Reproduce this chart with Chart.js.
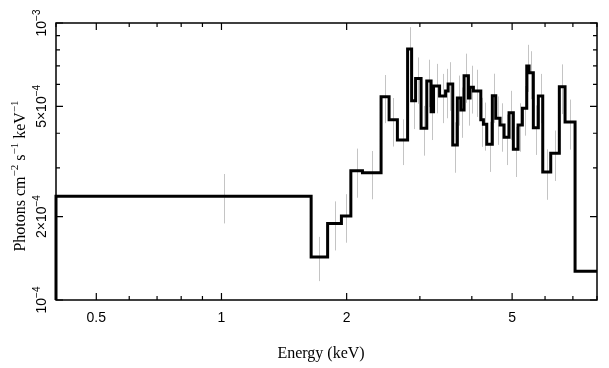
<!DOCTYPE html>
<html>
<head>
<meta charset="utf-8">
<script src="https://cdn.jsdelivr.net/npm/chart.js@4.4.0/dist/chart.umd.min.js"></script>
<style>
  html, body { margin: 0; padding: 0; background: #fff; }
</style>
</head>
<body>
<canvas id="spectrum" width="609" height="368"></canvas>
<script>
// bin edges (keV)
const binEdges = [0.400, 1.643, 1.800, 1.943, 2.047, 2.183, 2.420, 2.530, 2.649, 2.803,
  2.866, 2.930, 3.020, 3.117, 3.192, 3.236, 3.346, 3.459, 3.508, 3.599,
  3.692, 3.763, 3.832, 3.925, 3.961, 4.035, 4.204, 4.265, 4.345, 4.481,
  4.567, 4.677, 4.782, 4.916, 5.034, 5.167, 5.292, 5.422, 5.492, 5.623,
  5.781, 5.924, 6.192, 6.494, 6.703, 7.085, 8.000];

// flux per bin (photons cm^-2 s^-1 keV^-1)
const binFlux = [2.37e-4, 1.43e-4, 1.89e-4, 2.01e-4, 2.93e-4, 2.88e-4, 5.42e-4, 4.47e-4, 3.78e-4, 8.06e-4,
  5.24e-4, 6.31e-4, 4.17e-4, 6.17e-4, 4.78e-4, 5.92e-4, 5.45e-4, 5.68e-4, 6.02e-4, 3.63e-4,
  5.36e-4, 4.85e-4, 6.45e-4, 5.36e-4, 5.86e-4, 5.68e-4, 4.47e-4, 4.31e-4, 3.65e-4, 5.46e-4,
  4.53e-4, 4.28e-4, 3.87e-4, 4.74e-4, 3.50e-4, 4.28e-4, 4.92e-4, 6.99e-4, 6.61e-4, 4.19e-4,
  5.45e-4, 2.90e-4, 3.39e-4, 5.89e-4, 4.39e-4, 1.27e-4];

// 1 sigma errors
const binErr = [0.48e-4, 0.26e-4, 0.38e-4, 0.40e-4, 0.59e-4, 0.57e-4, 1.07e-4, 0.89e-4, 0.71e-4, 1.6e-4,
  1.1e-4, 1.2e-4, 0.85e-4, 1.2e-4, 1.0e-4, 1.2e-4, 1.1e-4, 1.15e-4, 1.2e-4, 0.75e-4,
  1.1e-4, 1.0e-4, 1.3e-4, 1.1e-4, 1.15e-4, 1.1e-4, 0.9e-4, 0.85e-4, 0.75e-4, 1.1e-4,
  0.9e-4, 0.85e-4, 0.8e-4, 0.95e-4, 0.72e-4, 0.85e-4, 1.0e-4, 1.35e-4, 1.3e-4, 0.85e-4,
  1.1e-4, 0.6e-4, 0.7e-4, 1.2e-4, 0.9e-4, null];

// energy where each error bar sits
const errEnergy = [1.015, 1.720, 1.870, 1.994, 2.114, 2.298, 2.474, 2.589, 2.725, 2.834,
  2.898, 2.975, 3.068, 3.154, 3.214, 3.291, 3.402, 3.483, 3.553, 3.645,
  3.727, 3.797, 3.878, 3.943, 3.998, 4.119, 4.234, 4.305, 4.413, 4.524,
  4.622, 4.729, 4.849, 4.975, 5.100, 5.229, 5.357, 5.457, 5.557, 5.702,
  5.852, 6.057, 6.341, 6.598, 6.882, 7.530];

const xMajor = [0.5, 1, 2, 5];
const xMinor = [0.4, 0.6, 0.7, 0.8, 0.9, 3, 4, 6, 7, 8];
const xLabels = ['0.5', '1', '2', '5'];
const yMajor = [1e-4, 2e-4, 5e-4, 1e-3];
const yMinor = [3e-4, 4e-4, 6e-4, 7e-4, 8e-4, 9e-4];
const yLabels = [['10', '\u22124'], ['2\u00d710', '\u22124'], ['5\u00d710', '\u22124'], ['10', '\u22123']];

const X_MIN = 0.4, X_MAX = 8, Y_MIN = 1e-4, Y_MAX = 1e-3;

// histogram outline
const stepPts = [{x: binEdges[0], y: Y_MIN}];
binFlux.forEach((v, i) => {
  stepPts.push({x: binEdges[i], y: v});
  stepPts.push({x: binEdges[i + 1], y: v});
});

// text with superscripts, centered at (x, y) baseline
function drawRich(ctx, parts, x, y, size, family) {
  const supSize = Math.round(size * 0.68);
  let total = 0;
  parts.forEach(p => {
    ctx.font = (p[1] ? supSize : size) + 'px ' + family;
    total += ctx.measureText(p[0]).width;
  });
  let cx = x - total / 2;
  ctx.textBaseline = 'alphabetic';
  ctx.textAlign = 'left';
  parts.forEach(p => {
    ctx.font = (p[1] ? supSize : size) + 'px ' + family;
    ctx.fillText(p[0], cx, p[1] ? y - size * 0.45 : y);
    cx += ctx.measureText(p[0]).width;
  });
}

const errorBars = {
  id: 'errorBars',
  beforeDatasetsDraw(chart) {
    const {ctx, scales: {x, y}} = chart;
    ctx.save();
    ctx.strokeStyle = '#c4c4c4';
    ctx.lineWidth = 1;
    binFlux.forEach((v, i) => {
      if (binErr[i] == null) return;
      const px = Math.round(x.getPixelForValue(errEnergy[i])) + 0.5;
      ctx.beginPath();
      ctx.moveTo(px, y.getPixelForValue(v + binErr[i]));
      ctx.lineTo(px, y.getPixelForValue(v - binErr[i]));
      ctx.stroke();
    });
    ctx.restore();
  }
};

const frame = {
  id: 'frame',
  afterDraw(chart) {
    const {ctx, chartArea: a, scales: {x, y}} = chart;
    ctx.save();
    ctx.strokeStyle = '#000';
    ctx.lineWidth = 1.5;
    ctx.strokeRect(a.left, a.top, a.right - a.left, a.bottom - a.top);

    ctx.lineWidth = 1.2;
    ctx.beginPath();
    const xt = (v, len) => {
      const px = x.getPixelForValue(v);
      ctx.moveTo(px, a.bottom); ctx.lineTo(px, a.bottom - len);
      ctx.moveTo(px, a.top); ctx.lineTo(px, a.top + len);
    };
    const yt = (v, len) => {
      const py = y.getPixelForValue(v);
      ctx.moveTo(a.left, py); ctx.lineTo(a.left + len, py);
      ctx.moveTo(a.right, py); ctx.lineTo(a.right - len, py);
    };
    xMajor.forEach(v => xt(v, 7));
    xMinor.forEach(v => xt(v, 4));
    yMajor.forEach(v => yt(v, 7));
    yMinor.forEach(v => yt(v, 4));
    ctx.stroke();

    ctx.fillStyle = '#000';
    ctx.font = '14px "Liberation Sans", Arial, sans-serif';
    ctx.textAlign = 'center';
    ctx.textBaseline = 'top';
    xMajor.forEach((v, i) => ctx.fillText(xLabels[i], x.getPixelForValue(v), 311));

    yMajor.forEach((v, i) => {
      ctx.save();
      ctx.translate(46, y.getPixelForValue(v));
      ctx.rotate(-Math.PI / 2);
      drawRich(ctx, [[yLabels[i][0], false], [yLabels[i][1], true]], 0, 0, 14, '"Liberation Sans", Arial, sans-serif');
      ctx.restore();
    });

    const serif = '"Liberation Serif", "Times New Roman", serif';
    drawRich(ctx, [['Energy (keV)', false]], 321, 358, 16, serif);

    ctx.save();
    ctx.translate(25, 176);
    ctx.rotate(-Math.PI / 2);
    drawRich(ctx, [['Photons cm', false], ['\u22122', true], [' s', false], ['\u22121', true], [' keV', false], ['\u22121', true]], 0, 0, 16, serif);
    ctx.restore();
    ctx.restore();
  }
};

new Chart('spectrum', {
  type: 'scatter',
  data: {
    datasets: [{
      data: stepPts,
      showLine: true,
      borderColor: '#000',
      borderWidth: 3,
      pointRadius: 0,
      borderJoinStyle: 'miter',
      clip: false
    }]
  },
  options: {
    responsive: false,
    animation: false,
    devicePixelRatio: 1,
    layout: { padding: { left: 56, right: 12, top: 23, bottom: 68 } },
    plugins: { legend: { display: false }, tooltip: { enabled: false } },
    scales: {
      x: { type: 'logarithmic', min: X_MIN, max: X_MAX, display: false },
      y: { type: 'logarithmic', min: Y_MIN, max: Y_MAX, display: false }
    }
  },
  plugins: [errorBars, frame]
});
</script>
</body>
</html>
